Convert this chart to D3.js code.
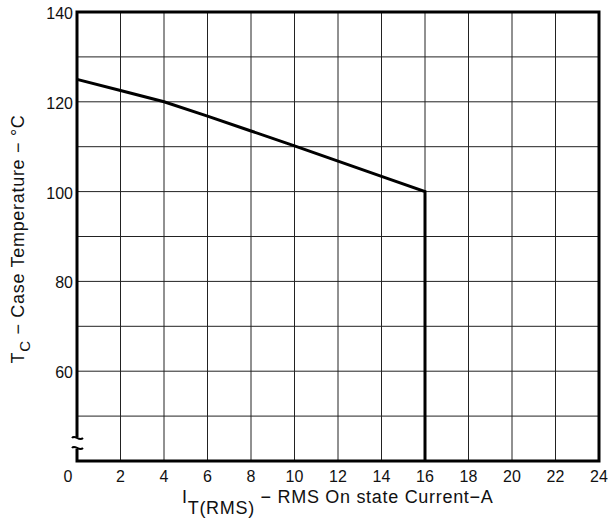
<!DOCTYPE html>
<html>
<head>
<meta charset="utf-8">
<script src="https://cdn.jsdelivr.net/npm/d3@7"></script>
<style>
  body { margin: 0; background: #fff; }
  text { font-family: "Liberation Sans", Arial, sans-serif; fill: #111; }
</style>
</head>
<body>
<svg id="chart" width="608" height="526"></svg>
<script>
// derating curve: case temp vs RMS on-state current
const current = [0, 2, 4, 6, 8, 10, 12, 14, 16, 16];
const caseTemp = [125, 122.5, 120, 116.8, 113.5, 110.2, 106.8, 103.4, 100, 40];

const xTicks = [0, 2, 4, 6, 8, 10, 12, 14, 16, 18, 20, 22, 24];
const yGrid = [50, 60, 70, 80, 90, 100, 110, 120, 130, 140];
const yTickLabels = [60, 80, 100, 120, 140];

const pLeft = 77, pRight = 599, pTop = 12, pBottom = 461;

var svg = d3.select("#chart");

var x = d3.scaleLinear().domain([0, 24]).range([pLeft, pRight]);
var y = d3.scaleLinear().domain([40, 140]).range([pBottom, pTop]);

// grid
svg.append("g").selectAll("line")
    .data(xTicks.slice(1, -1))
    .enter().append("line")
    .attr("x1", d => x(d)).attr("x2", d => x(d))
    .attr("y1", pTop).attr("y2", pBottom)
    .attr("stroke", "#222").attr("stroke-width", 1);

svg.append("g").selectAll("line")
    .data(yGrid.slice(0, -1))
    .enter().append("line")
    .attr("x1", pLeft).attr("x2", pRight)
    .attr("y1", d => y(d)).attr("y2", d => y(d))
    .attr("stroke", "#222").attr("stroke-width", 1);

// frame (left side has a break)
var breakTop = 437, breakBot = 449;
var frame = d3.path();
frame.moveTo(pLeft, breakTop);
frame.lineTo(pLeft, pTop);
frame.lineTo(pRight, pTop);
frame.lineTo(pRight, pBottom);
frame.lineTo(pLeft, pBottom);
frame.lineTo(pLeft, breakBot);
svg.append("path")
    .attr("d", frame.toString())
    .attr("fill", "none")
    .attr("stroke", "#000")
    .attr("stroke-width", 3);

// break squiggles
[breakTop + 1, breakBot - 1].forEach(function (yy) {
    var p = d3.path();
    p.moveTo(pLeft - 5, yy);
    p.bezierCurveTo(pLeft - 2, yy - 4, pLeft + 2, yy + 4, pLeft + 6, yy);
    svg.append("path")
        .attr("d", p.toString())
        .attr("fill", "none")
        .attr("stroke", "#000")
        .attr("stroke-width", 2);
});

// curve
var line = d3.line()
    .x((d, i) => x(current[i]))
    .y(d => y(d));
svg.append("path")
    .datum(caseTemp)
    .attr("d", line)
    .attr("fill", "none")
    .attr("stroke", "#000")
    .attr("stroke-width", 3)
    .attr("stroke-linejoin", "miter");

// tick labels
svg.append("g").selectAll("text")
    .data(xTicks)
    .enter().append("text")
    .attr("x", d => d == 0 ? x(d) - 9 : x(d))
    .attr("y", 482)
    .attr("text-anchor", "middle")
    .attr("font-size", 16)
    .text(d => d);

svg.append("g").selectAll("text")
    .data(yTickLabels)
    .enter().append("text")
    .attr("x", 73)
    .attr("y", d => y(d) + 7)
    .attr("text-anchor", "end")
    .attr("font-size", 16)
    .text(d => d);

// axis titles
var xt = svg.append("text")
    .attr("x", 182)
    .attr("y", 503)
    .attr("font-size", 18)
    .attr("letter-spacing", 0.7);
xt.append("tspan").text("I");
xt.append("tspan").attr("dy", 11).text("T(RMS)");
xt.append("tspan").attr("dy", -11).text(" \u2212 RMS On state Current\u2212A");

var yt = svg.append("text")
    .attr("transform", "translate(24,239) rotate(-90)")
    .attr("text-anchor", "middle")
    .attr("font-size", 18)
    .attr("letter-spacing", 0.7);
yt.append("tspan").text("T");
yt.append("tspan").attr("dy", 6).attr("font-size", 15).text("C");
yt.append("tspan").attr("dy", -6).text(" \u2212 Case Temperature \u2212 \u00B0C");
</script>
</body>
</html>
